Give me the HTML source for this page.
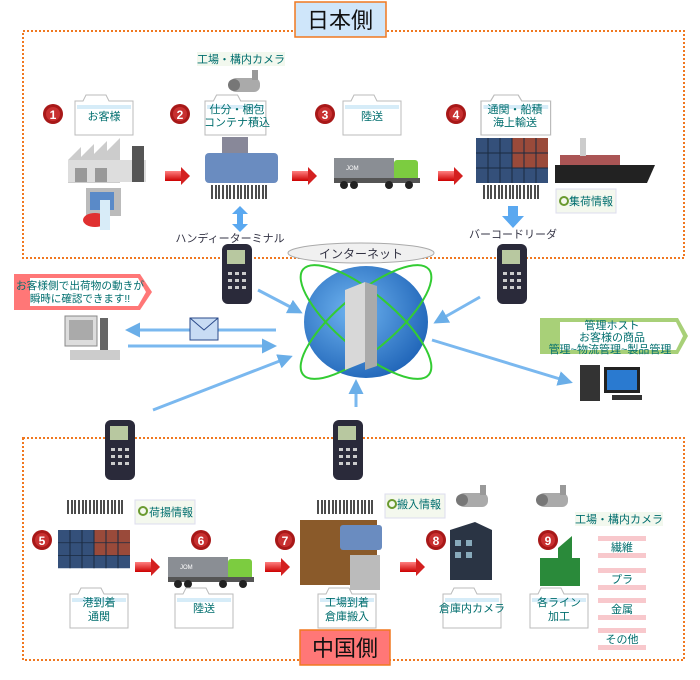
<!DOCTYPE html>
<html><head><meta charset="utf-8"><style>
html,body{margin:0;padding:0;background:#fff;width:700px;height:680px;overflow:hidden}
svg{display:block}
text{font-family:"Liberation Sans","Noto Sans CJK JP",sans-serif}
.t{fill:#006e6e;font-size:11px}
.n{fill:#fff;font-size:12px;font-weight:bold}
</style></head><body>
<svg width="700" height="680" viewBox="0 0 700 680" xmlns="http://www.w3.org/2000/svg">
<defs>
<marker id="ah" markerWidth="5" markerHeight="5" refX="4" refY="2.5" orient="auto"><path d="M0,0L5,2.5L0,5z" fill="#6aaee8"/></marker>
<linearGradient id="rg" x1="0" y1="0" x2="0" y2="1"><stop offset="0" stop-color="#ff8080"/><stop offset="1" stop-color="#c00"/></linearGradient>
<radialGradient id="gl" cx="0.4" cy="0.4" r="0.7"><stop offset="0" stop-color="#6fb4f0"/><stop offset="1" stop-color="#1a5fb4"/></radialGradient>
<g id="folder"><path d="M0,6h8l3,-6h20l3,6h24v34h-58z" fill="#fff" stroke="#bbb"/><rect x="2" y="10" width="54" height="4" fill="#d6ecf8"/></g>
<g id="num"><circle r="10" fill="#a81818"/><circle r="7" fill="#c83030"/></g>
<g id="rar"><rect x="0" y="-5" width="16" height="10" fill="url(#rg)"/><path d="M16,-9L25,0L16,9z" fill="#d42020"/></g>
<g id="hh"><rect x="0" y="0" width="30" height="60" rx="6" fill="#2a2a3a"/><rect x="5" y="6" width="18" height="14" fill="#b8c8a0"/><g fill="#ccc"><rect x="6" y="28" width="4" height="3"/><rect x="13" y="28" width="4" height="3"/><rect x="20" y="28" width="4" height="3"/><rect x="6" y="35" width="4" height="3"/><rect x="13" y="35" width="4" height="3"/><rect x="20" y="35" width="4" height="3"/><rect x="6" y="42" width="4" height="3"/><rect x="13" y="42" width="4" height="3"/><rect x="20" y="42" width="4" height="3"/></g></g>
<g id="bc"><rect x="0" y="0" width="58" height="14" fill="#fff"/><g stroke="#111" stroke-width="1.5"><path d="M2,0v14M6,0v14M9,0v14M13,0v14M17,0v14M20,0v14M24,0v14M28,0v14M31,0v14M35,0v14M38,0v14M42,0v14M46,0v14M49,0v14M53,0v14M56,0v14"/></g></g>
<g id="cont"><rect x="0" y="0" width="72" height="45" fill="#34507a"/><rect x="36" y="0" width="36" height="30" fill="#9a4a3a"/><g stroke="#1a2a40" stroke-width="1"><path d="M0,15h72M0,30h72M12,0v45M24,0v45M36,0v45M48,0v45M60,0v45"/></g></g>
<g id="truck"><rect x="0" y="0" width="60" height="20" fill="#8a8e94"/><rect x="60" y="2" width="24" height="22" rx="3" fill="#7ccc40"/><rect x="0" y="20" width="86" height="5" fill="#555"/><circle cx="10" cy="27" r="4" fill="#222"/><circle cx="20" cy="27" r="4" fill="#222"/><circle cx="55" cy="27" r="4" fill="#222"/><circle cx="75" cy="27" r="4" fill="#222"/><text x="12" y="12" font-size="6" fill="#fff">JOM</text></g>
<g id="cam"><rect x="0" y="8" width="30" height="14" rx="6" fill="#aaa"/><circle cx="4" cy="15" r="6" fill="#777"/><rect x="22" y="0" width="6" height="10" fill="#999"/></g>
</defs>

<rect x="23" y="31" width="661" height="227" fill="none" stroke="#f07820" stroke-width="2" stroke-dasharray="2,2"/>
<rect x="295" y="2" width="91" height="35" fill="#cfe6fa" stroke="#f07820" stroke-width="1.5"/>
<text x="340" y="28" text-anchor="middle" font-size="22" fill="#111">日本側</text>

<rect x="23" y="438" width="661" height="222" fill="none" stroke="#f07820" stroke-width="2" stroke-dasharray="2,2"/>
<rect x="300" y="630" width="90" height="35" fill="#f77" stroke="#f07820" stroke-width="1.5"/>
<text x="345" y="656" text-anchor="middle" font-size="22" fill="#111">中国側</text>

<rect x="197" y="52" width="88" height="14" fill="#f2f8ee"/>
<text x="241" y="63" text-anchor="middle" class="t">工場・構内カメラ</text>
<use href="#cam" x="230" y="70"/>

<use href="#num" x="53" y="114"/><text x="53" y="119" text-anchor="middle" class="n">1</text>
<use href="#num" x="180" y="114"/><text x="180" y="119" text-anchor="middle" class="n">2</text>
<use href="#num" x="325" y="114"/><text x="325" y="119" text-anchor="middle" class="n">3</text>
<use href="#num" x="456" y="114"/><text x="456" y="119" text-anchor="middle" class="n">4</text>

<use href="#folder" x="75" y="95"/><text x="104" y="120" text-anchor="middle" class="t">お客様</text>
<use href="#folder" x="205" y="95" transform="translate(205,95) scale(1.05,1) translate(-205,-95)"/>
<text x="237" y="113" text-anchor="middle" class="t">仕分・梱包</text><text x="237" y="126" text-anchor="middle" class="t">コンテナ積込</text>
<use href="#folder" x="343" y="95"/><text x="372" y="120" text-anchor="middle" class="t">陸送</text>
<use href="#folder" x="481" y="95" transform="translate(481,95) scale(1.2,1) translate(-481,-95)"/>
<text x="515" y="113" text-anchor="middle" class="t">通関・船積</text><text x="515" y="126" text-anchor="middle" class="t">海上輸送</text>

<path d="M68,160l13,-13v10l13,-13v10l13,-13v10l13,-13v45h-52z" fill="#ccc"/>
<rect x="68" y="160" width="78" height="22" fill="#ddd"/>
<rect x="132" y="146" width="12" height="36" fill="#555"/>
<rect x="75" y="168" width="12" height="14" fill="#999"/><rect x="95" y="168" width="12" height="14" fill="#999"/>
<rect x="86" y="188" width="35" height="28" fill="#bbb"/><rect x="90" y="192" width="24" height="18" fill="#5a8ac8"/>
<ellipse cx="95" cy="220" rx="12" ry="7" fill="#e03030"/><rect x="100" y="200" width="10" height="30" fill="#d8ecf8"/>

<use href="#rar" x="165" y="176"/>
<use href="#rar" x="292" y="176"/>
<use href="#rar" x="438" y="176"/>

<rect x="222" y="137" width="26" height="20" fill="#889"/>
<rect x="205" y="153" width="73" height="30" rx="4" fill="#6a8cc0"/>
<use href="#bc" x="210" y="185"/>
<path d="M240,206l-8,8h5v10h-5l8,8l8,-8h-5v-10h5z" fill="#5aa8f0"/>
<text x="230" y="242" text-anchor="middle" font-size="11" fill="#334">ハンディーターミナル</text>

<use href="#truck" x="334" y="158"/>

<use href="#cont" x="476" y="138"/>
<path d="M555,165h100l-8,18h-92z" fill="#222"/><rect x="560" y="155" width="60" height="10" fill="#a55"/><rect x="580" y="138" width="6" height="18" fill="#ccc"/>
<use href="#bc" x="482" y="185"/>
<rect x="556" y="189" width="60" height="24" fill="#f4f8ee" stroke="#dde"/>
<circle cx="564" cy="201" r="4" fill="none" stroke="#6a9a30" stroke-width="2"/>
<text x="591" y="205" text-anchor="middle" class="t">集荷情報</text>
<path d="M508,206h10v10h6l-11,12l-11,-12h6z" fill="#5aa8f0"/>
<text x="513" y="238" text-anchor="middle" font-size="11" fill="#334">バーコードリーダ</text>

<ellipse cx="361" cy="253" rx="73" ry="10" fill="#f0f0f0" stroke="#aaa"/>
<text x="361" y="258" text-anchor="middle" font-size="12" fill="#334">インターネット</text>
<ellipse cx="366" cy="322" rx="62" ry="56" fill="url(#gl)"/>
<ellipse cx="366" cy="322" rx="82" ry="28" transform="rotate(40 366 322)" fill="none" stroke="#3c3" stroke-width="2"/>
<ellipse cx="366" cy="322" rx="82" ry="28" transform="rotate(-40 366 322)" fill="none" stroke="#3c3" stroke-width="2"/>
<path d="M345,290l20,-8v80l-20,8z" fill="#d8d8d8"/><path d="M365,282l12,4v80l-12,4z" fill="#aaa"/>

<use href="#hh" x="222" y="244"/>
<use href="#hh" x="497" y="244"/>
<use href="#hh" x="105" y="420"/>
<use href="#hh" x="333" y="420"/>

<g stroke="#7ab8ef" stroke-width="3" marker-end="url(#ah)">
<line x1="258" y1="290" x2="300" y2="312"/>
<line x1="480" y1="297" x2="436" y2="322"/>
<line x1="276" y1="330" x2="128" y2="330"/>
<line x1="128" y1="346" x2="274" y2="346"/>
<line x1="153" y1="410" x2="290" y2="357"/>
<line x1="356" y1="407" x2="356" y2="382"/>
<line x1="432" y1="340" x2="570" y2="382"/>
</g>
<rect x="190" y="318" width="28" height="22" fill="#c8dcf4" stroke="#2a4a8a"/><path d="M190,318l14,12l14,-12" fill="none" stroke="#2a4a8a"/>

<path d="M14,274h126l12,18l-12,18h-126z" fill="#f77"/>
<path d="M30,278h108l8,14l-8,14h-108z" fill="#fff"/>
<text x="80" y="289" text-anchor="middle" font-size="10.5" fill="#006e6e" textLength="128" lengthAdjust="spacingAndGlyphs">お客様側で出荷物の動きが</text>
<text x="80" y="302" text-anchor="middle" font-size="10.5" fill="#006e6e">瞬時に確認できます!!</text>
<rect x="65" y="316" width="32" height="30" fill="#ddd" stroke="#888"/><rect x="69" y="320" width="24" height="20" fill="#aaa"/>
<rect x="100" y="318" width="8" height="32" fill="#666"/><rect x="70" y="350" width="50" height="10" fill="#ccc"/>

<path d="M540,318h138l10,18l-10,18h-138z" fill="#a8d078"/>
<path d="M560,322h116l7,14l-7,14h-116z" fill="#fff"/>
<text x="612" y="329" text-anchor="middle" class="t">管理ホスト</text>
<text x="612" y="341" text-anchor="middle" class="t">お客様の商品</text>
<text x="610" y="353" text-anchor="middle" class="t">管理~物流管理~製品管理</text>
<rect x="580" y="365" width="20" height="36" fill="#333"/><rect x="604" y="367" width="36" height="26" fill="#222"/><rect x="607" y="370" width="30" height="20" fill="#2a7ad0"/><rect x="612" y="395" width="30" height="5" fill="#333"/>

<use href="#bc" x="66" y="500"/>
<rect x="135" y="500" width="60" height="24" fill="#f4f8ee" stroke="#dde"/>
<circle cx="143" cy="511" r="4" fill="none" stroke="#6a9a30" stroke-width="2"/>
<text x="171" y="516" text-anchor="middle" class="t">荷揚情報</text>
<use href="#bc" x="316" y="500"/>
<rect x="385" y="494" width="60" height="24" fill="#f4f8ee" stroke="#dde"/>
<circle cx="392" cy="504" r="4" fill="none" stroke="#6a9a30" stroke-width="2"/>
<text x="419" y="508" text-anchor="middle" class="t">搬入情報</text>
<use href="#cam" x="458" y="485"/>
<use href="#cam" x="538" y="485"/>
<rect x="575" y="512" width="88" height="14" fill="#f2f8ee"/>
<text x="619" y="523" text-anchor="middle" class="t">工場・構内カメラ</text>

<use href="#cont" x="58" y="530" transform="translate(58,530) scale(1,0.85) translate(-58,-530)"/>
<use href="#rar" x="135" y="567"/>
<use href="#truck" x="168" y="557"/>
<use href="#rar" x="265" y="567"/>
<rect x="300" y="520" width="77" height="65" fill="#8a5a2a"/>
<rect x="340" y="525" width="42" height="25" rx="3" fill="#6a8cc0"/><rect x="350" y="555" width="30" height="35" fill="#bbb"/>
<use href="#rar" x="400" y="567"/>
<path d="M450,530l25,-8l17,8v50h-42z" fill="#2a3444"/><g fill="#8ab"><rect x="455" y="540" width="6" height="6"/><rect x="466" y="540" width="6" height="6"/><rect x="455" y="552" width="6" height="6"/><rect x="466" y="552" width="6" height="6"/></g>
<path d="M540,558h40v28h-40z" fill="#2a8a3a"/><path d="M558,548l14,-12v22h-14z" fill="#2a8a3a"/>

<use href="#num" x="42" y="540"/><text x="42" y="545" text-anchor="middle" class="n">5</text>
<use href="#num" x="201" y="540"/><text x="201" y="545" text-anchor="middle" class="n">6</text>
<use href="#num" x="285" y="540"/><text x="285" y="545" text-anchor="middle" class="n">7</text>
<use href="#num" x="436" y="540"/><text x="436" y="545" text-anchor="middle" class="n">8</text>
<use href="#num" x="548" y="540"/><text x="548" y="545" text-anchor="middle" class="n">9</text>

<use href="#folder" x="70" y="588"/><text x="99" y="606" text-anchor="middle" class="t">港到着</text><text x="99" y="620" text-anchor="middle" class="t">通関</text>
<use href="#folder" x="175" y="588"/><text x="204" y="612" text-anchor="middle" class="t">陸送</text>
<use href="#folder" x="318" y="588"/><text x="347" y="606" text-anchor="middle" class="t">工場到着</text><text x="347" y="620" text-anchor="middle" class="t">倉庫搬入</text>
<use href="#folder" x="443" y="588"/><text x="472" y="612" text-anchor="middle" class="t">倉庫内カメラ</text>
<use href="#folder" x="530" y="588"/><text x="559" y="606" text-anchor="middle" class="t">各ライン</text><text x="559" y="620" text-anchor="middle" class="t">加工</text>

<g fill="#f8c8cc">
<rect x="598" y="536" width="48" height="22"/><rect x="598" y="568" width="48" height="22"/><rect x="598" y="598" width="48" height="22"/><rect x="598" y="628" width="48" height="22"/>
</g>
<g fill="#fff"><rect x="598" y="541" width="48" height="12"/><rect x="598" y="573" width="48" height="12"/><rect x="598" y="603" width="48" height="12"/><rect x="598" y="633" width="48" height="12"/></g>
<text x="622" y="551" text-anchor="middle" class="t">繊維</text>
<text x="622" y="583" text-anchor="middle" class="t">プラ</text>
<text x="622" y="613" text-anchor="middle" class="t">金属</text>
<text x="622" y="643" text-anchor="middle" class="t">その他</text>
</svg>
</body></html>
